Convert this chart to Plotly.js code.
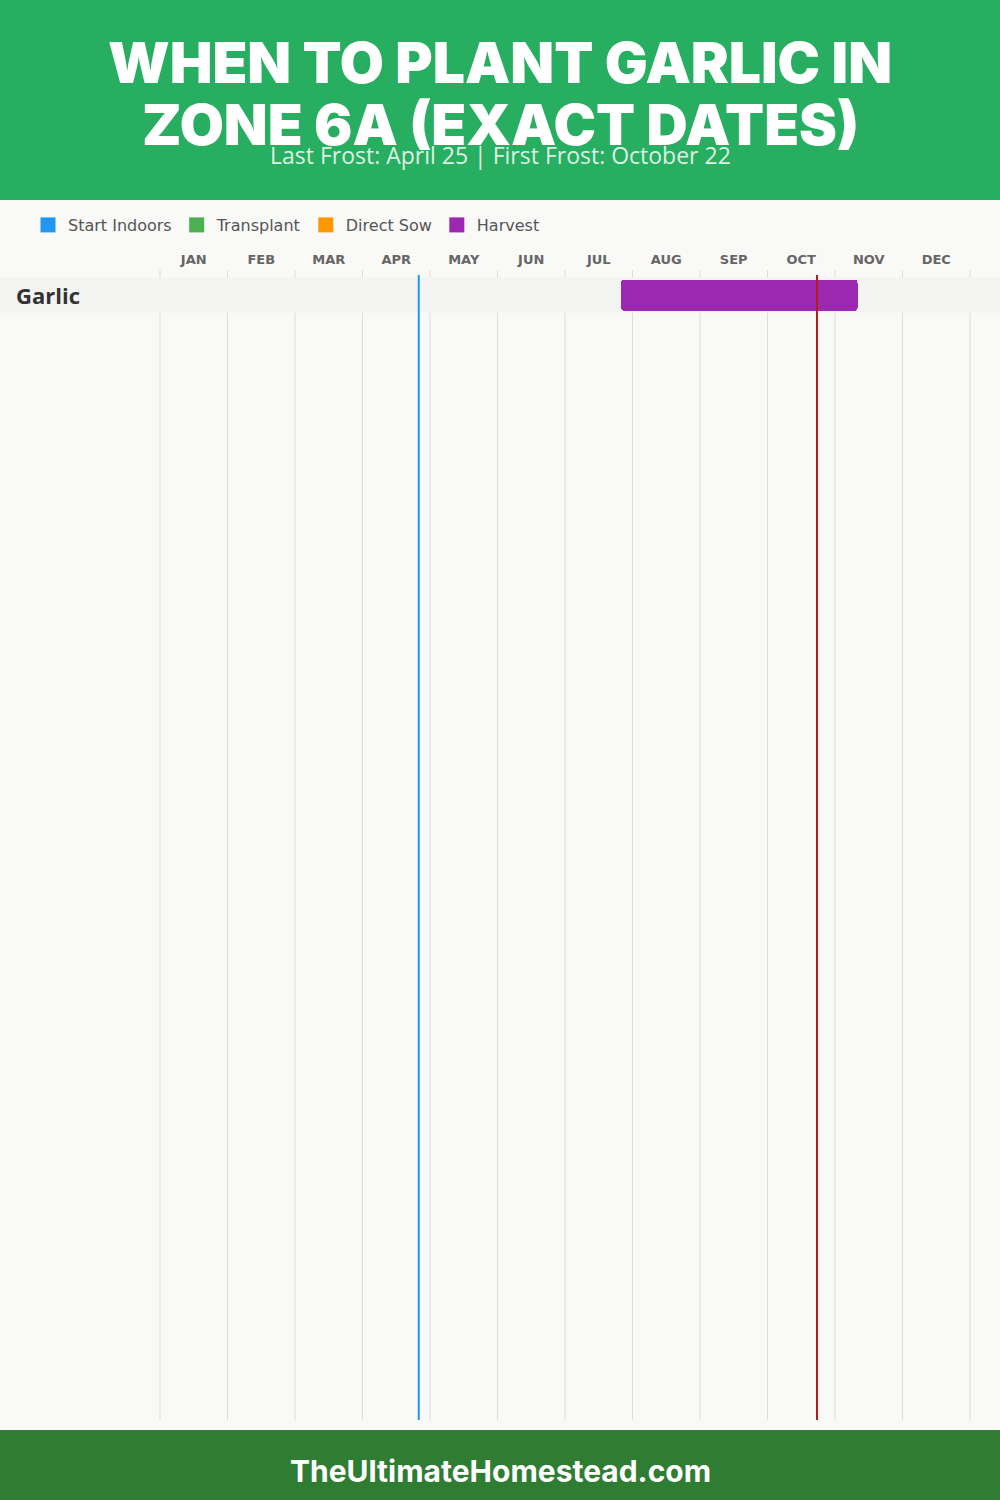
<!DOCTYPE html>
<html>
<head>
<meta charset="utf-8">
<script src="https://cdn.plot.ly/plotly-3.0.1.min.js"></script>
<style>
  html, body { margin: 0; padding: 0; background: #f9f9f7; }
  #chart { width: 1000px; height: 1500px; }
</style>
</head>
<body>
<div id="chart"></div>
<script>
// ---- data ----
const months = ['JAN','FEB','MAR','APR','MAY','JUN','JUL','AUG','SEP','OCT','NOV','DEC'];
const crops = ['Garlic'];
const harvestStart = ['07-25'];
const harvestEnd = ['11-10'];
const lastFrost = '04-25';
const firstFrost = '10-22';
const legendLabels = ['Start Indoors', 'Transplant', 'Direct Sow', 'Harvest'];
const legendColors = ['#2196F3', '#4CAF50', '#FF9800', '#9C27B0'];
const titleLines = ['WHEN TO PLANT GARLIC IN', 'ZONE 6A (EXACT DATES)'];
const subtitleText = 'Last Frost: April 25 | First Frost: October 22';
const footerText = 'TheUltimateHomestead.com';

// month position: month index + day/30
function pos(d) {
  const [m, day] = d.split('-').map(Number);
  return (m - 1) + day / 30;
}

const W = 1000, H = 1500;
const TOP = 270, BOTTOM = 80;
const plotH = H - TOP - BOTTOM;
const pxPerMonth = 67.5, x0px = 160;
const rowPx = 35, rowCenterFromTop = 25.3;
const yTop = rowCenterFromTop / rowPx;
const yRange = [yTop - plotH / rowPx, yTop];
const xRange = [-x0px / pxPerMonth, (W - x0px) / pxPerMonth];
// convert a pixel row (from top of page) to paper y
const py = (p) => 1 + (TOP - p) / plotH;

const traces = [];
// legend entries
legendLabels.forEach((lab, i) => {
  traces.push({
    type: 'scatter', mode: 'markers', x: [null], y: [null], name: lab,
    marker: { symbol: 'square', size: 15, color: legendColors[i] },
    hoverinfo: 'skip', showlegend: true
  });
});
// harvest bars
traces.push({
  type: 'bar', orientation: 'h',
  y: crops.map((c, i) => i),
  base: harvestStart.map(pos),
  x: harvestStart.map((s, i) => pos(harvestEnd[i]) - pos(s)),
  width: 0.88,
  marker: { color: legendColors[3], cornerradius: 3, line: { width: 0 } },
  showlegend: false, hoverinfo: 'skip'
});

const shapes = [];
// header & footer bands
shapes.push({ type: 'rect', xref: 'paper', yref: 'paper', x0: 0, x1: 1,
  y0: py(200), y1: py(0), fillcolor: '#27AE60', line: { width: 0 }, layer: 'below' });
shapes.push({ type: 'rect', xref: 'paper', yref: 'paper', x0: 0, x1: 1,
  y0: py(1500), y1: py(1430), fillcolor: '#2E7D32', line: { width: 0 }, layer: 'below' });
// month grid lines
for (let k = 0; k <= months.length; k++) {
  shapes.push({ type: 'line', xref: 'x', yref: 'paper', x0: k, x1: k, y0: 0, y1: 1,
    line: { color: '#dcdcdc', width: 1 }, layer: 'below' });
}
// row bands
crops.forEach((c, i) => {
  shapes.push({ type: 'rect', xref: 'paper', yref: 'y', x0: 0, x1: 1, y0: i - 0.5, y1: i + 0.5,
    fillcolor: '#f3f3f2', line: { width: 0 }, layer: 'below' });
});
// frost lines
shapes.push({ type: 'line', xref: 'x', yref: 'paper', x0: pos(lastFrost), x1: pos(lastFrost),
  y0: 0, y1: py(275), line: { color: '#2196F3', width: 2 }, layer: 'above' });
shapes.push({ type: 'line', xref: 'x', yref: 'paper', x0: pos(firstFrost), x1: pos(firstFrost),
  y0: 0, y1: py(275), line: { color: '#B71C1C', width: 2 }, layer: 'above' });

const annotations = [];
const titleCenters = [62, 124];
titleLines.forEach((t, i) => {
  annotations.push({ text: t, xref: 'paper', yref: 'paper', x: 0.5, y: py(titleCenters[i]),
    xanchor: 'center', yanchor: 'middle', showarrow: false,
    font: { family: 'Inter, sans-serif', size: 57, color: '#ffffff', weight: 900 } });
});
annotations.push({ text: subtitleText, xref: 'paper', yref: 'paper', x: 0.5, y: py(155),
  xanchor: 'center', yanchor: 'middle', showarrow: false,
  font: { family: 'Open Sans, sans-serif', size: 23, color: 'rgba(255,255,255,0.85)' } });
annotations.push({ text: footerText, xref: 'paper', yref: 'paper', x: 0.5, y: py(1471),
  xanchor: 'center', yanchor: 'middle', showarrow: false,
  font: { family: 'Inter, sans-serif', size: 30, color: '#ffffff', weight: 700 } });
crops.forEach((c, i) => {
  annotations.push({ text: '<b>' + c + '</b>', xref: 'paper', yref: 'y', x: 0.014, y: i,
    xanchor: 'left', yanchor: 'middle', showarrow: false,
    font: { family: 'Open Sans, sans-serif', size: 22, color: '#333333' } });
});

const layout = {
  width: W, height: H,
  paper_bgcolor: '#f9f9f7', plot_bgcolor: 'rgba(0,0,0,0)',
  margin: { l: 0, r: 0, t: TOP, b: BOTTOM, pad: 0 },
  xaxis: { range: xRange, side: 'top', tickmode: 'array', tickvals: months.map((m, i) => i + 0.5), ticktext: months,
    showgrid: false, zeroline: false, showline: false, ticks: '', fixedrange: true, ticklabelstandoff: 2,
    tickfont: { family: 'DejaVu Sans, sans-serif', size: 13, color: '#666666', weight: 700 } },
  yaxis: { range: yRange, showgrid: false, zeroline: false, showline: false, showticklabels: false, ticks: '', fixedrange: true },
  showlegend: true,
  legend: { orientation: 'h', x: 0.028, xanchor: 'left', y: 1 - 225 / H, yanchor: 'middle', yref: 'container',
    font: { family: 'DejaVu Sans, sans-serif', size: 16, color: '#555555' }, bgcolor: 'rgba(0,0,0,0)', itemclick: false },
  bargap: 0,
  shapes: shapes, annotations: annotations
};

Plotly.newPlot('chart', traces, layout, { displayModeBar: false, staticPlot: true });
</script>
</body>
</html>
